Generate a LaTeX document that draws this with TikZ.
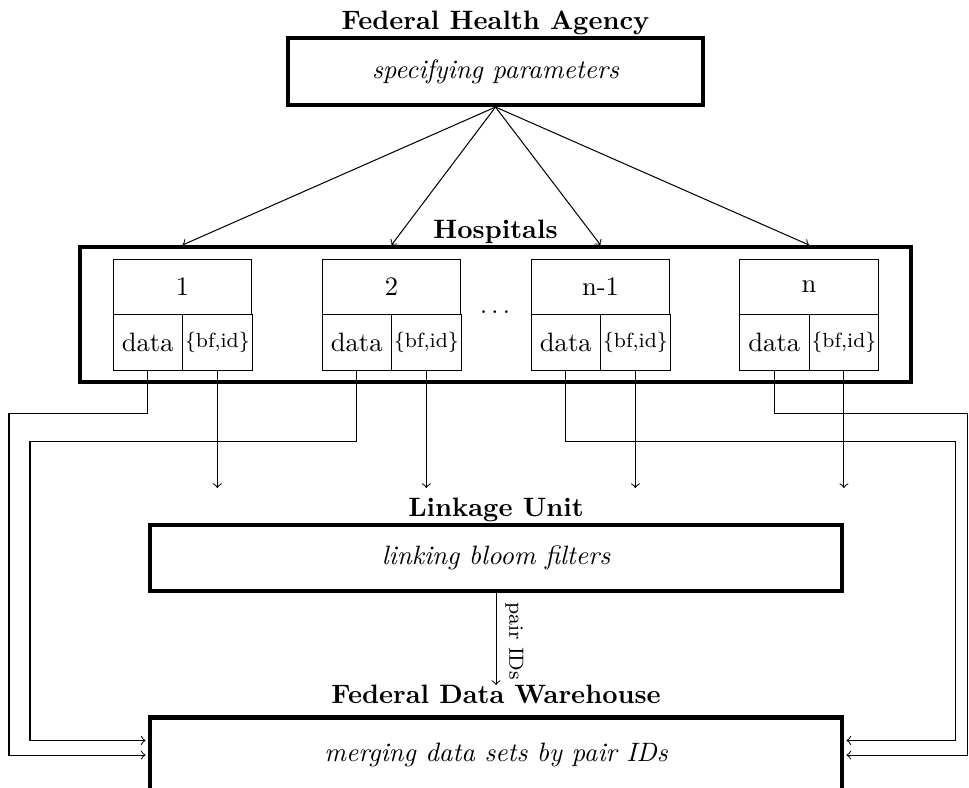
\documentclass[tikz,border=0pt]{standalone}
\usepackage{tikz}
\usetikzlibrary{positioning}

\begin{document}
\fontsize{10.4pt}{12.5pt}\selectfont
\begin{tikzpicture}[x=0.01373cm,y=-0.01373cm,
  stage/.style={draw,ultra thick,font=\itshape,inner sep=2pt},
  title/.style={font=\bfseries,inner sep=0pt,text depth=0pt},
  cell/.style={draw,outer sep=0pt,minimum width=0.954cm,minimum height=0.762cm,inner sep=1pt}]
\useasboundingbox (0,0) rectangle (969,787);
% agency
\node[stage,minimum width=5.70cm,minimum height=0.92cm] (fha) at (495.5,71.5) {specifying parameters};
\node[title,above=2.3pt of fha] (fhat) {Federal Health Agency};
% hospitals
\node[stage,minimum width=11.41cm,minimum height=1.853cm] (hosp) at (495.5,314.5) {};
\node[title,above=2.5pt of hosp] (hospt) {Hospitals};
\foreach \i/\x/\t in {1/182.5/1,2/391.5/2,3/600.5/n-1,4/809/n}{
  \node[cell,minimum width=1.908cm] (h\i) at (\x,287) {\t};
  \node[cell,anchor=north east] (d\i) at (h\i.south) {data};
  \node[cell,anchor=north west,font=\footnotesize] (b\i) at (h\i.south) {\{bf,id\}};
  \draw[->] (fha.south) -- (hosp.north -| h\i.center);
  \coordinate (e\i) at (b\i.south |- 0,488);
  \draw[->] (b\i.south) -- (e\i);
}
\node (dots) at (495,312) {$\ldots$};
% linkage and warehouse
\node[stage,minimum width=9.50cm,minimum height=0.906cm] (lu) at (496,558) {linking bloom filters};
\node[title,above=2.3pt of lu] (lut) {Linkage Unit};
\node[stage,minimum width=9.50cm,minimum height=1.03cm] (fdw) at (496,755) {merging data sets by pair IDs};
\node[title,above=4.3pt of fdw] (fdwt) {Federal Data Warehouse};
\draw[->] (lu.south) -- node[pos=0,rotate=-90,anchor=south west,font=\footnotesize] (pid) {pair IDs} (fdwt.north);
% data to warehouse
\draw[->,shorten >=1pt] (d1.south) |- (9,413) |- (fdw.west);
\draw[->,shorten >=1pt] (d2.south) |- (30,441) |- ([yshift=0.2cm]fdw.west);
\draw[->,shorten >=1pt] (d3.south) |- (955,441) |- ([yshift=0.2cm]fdw.east);
\draw[->,shorten >=1pt] (d4.south) |- (967,413) |- (fdw.east);
\end{tikzpicture}
\end{document}
